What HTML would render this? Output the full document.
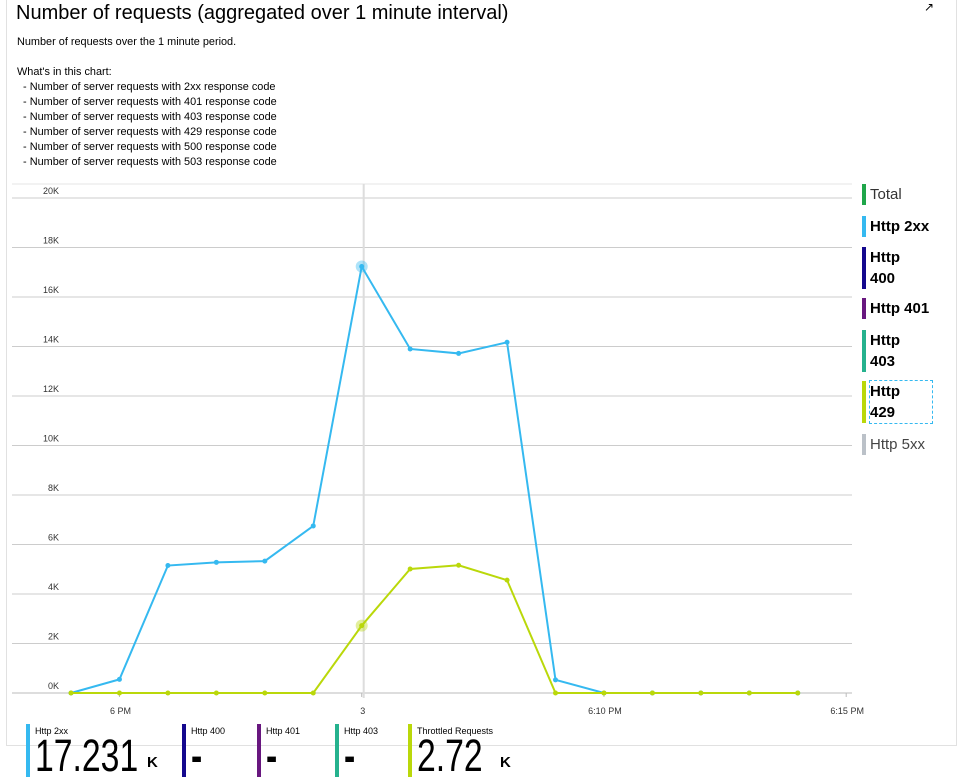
<!DOCTYPE html>
<html><head><meta charset="utf-8">
<style>
body{margin:0;background:#fff;font-family:"Liberation Sans",sans-serif;color:#000;width:962px;height:777px;overflow:hidden;position:relative}
.abs{position:absolute}
.desc{font-size:10.9px;line-height:15px}
.leg{position:absolute;left:862px;border-left:4px solid;padding-left:4px;font-size:15px;line-height:21px;font-weight:bold}
.tile{position:absolute;top:724px;border-left:4px solid;padding-left:5px;height:53px}
.tile .t{font-size:9px;margin-top:2px}
.tile .v{font-size:45px;line-height:40px;transform:scaleX(0.75);transform-origin:left top;white-space:nowrap}
.tile .k{position:absolute;top:30px;font-size:15px;font-weight:bold}
</style></head><body>
<div class="abs" style="left:6px;top:-2px;width:949px;height:747px;border:1px solid #e1e1e1;border-top:none"></div>
<div class="abs" style="left:16px;top:2px;font-size:20px">Number of requests (aggregated over 1 minute interval)</div>
<div class="abs" style="left:924px;top:0px;font-size:12px">↗</div>
<div class="abs desc" style="left:17px;top:35px">Number of requests over the 1 minute period.<br><br>What's in this chart:<br>&nbsp; - Number of server requests with 2xx response code<br>&nbsp; - Number of server requests with 401 response code<br>&nbsp; - Number of server requests with 403 response code<br>&nbsp; - Number of server requests with 429 response code<br>&nbsp; - Number of server requests with 500 response code<br>&nbsp; - Number of server requests with 503 response code</div>
<svg class="abs" style="left:0;top:0" width="962" height="777" id="chart"></svg>
<div class="leg" style="top:184px;border-color:#1fa64a;font-weight:normal;color:#333">Total</div>
<div class="leg" style="top:216px;border-color:#35b9f0">Http 2xx</div>
<div class="leg" style="top:247px;border-color:#14088e">Http<br>400</div>
<div class="leg" style="top:298px;border-color:#68177f">Http 401</div>
<div class="leg" style="top:330px;border-color:#25b28e">Http<br>403</div>
<div class="leg" style="top:381px;border-color:#bad80a"><span style="outline:1px dashed #35b9f0;display:inline-block;width:62px">Http<br>429</span></div>
<div class="leg" style="top:434px;border-color:#bbc1c8;font-weight:normal;color:#444">Http 5xx</div>
<div class="tile" style="left:26px;border-color:#35b9f0"><div class="t">Http 2xx</div><div class="v">17.231</div><div class="k" style="left:117px">K</div></div>
<div class="tile" style="left:182px;border-color:#14088e"><div class="t">Http 400</div><div class="v" style="font-weight:bold">-</div></div>
<div class="tile" style="left:257px;border-color:#68177f"><div class="t">Http 401</div><div class="v" style="font-weight:bold">-</div></div>
<div class="tile" style="left:335px;border-color:#25b28e"><div class="t">Http 403</div><div class="v" style="font-weight:bold">-</div></div>
<div class="tile" style="left:408px;border-color:#bad80a"><div class="t">Throttled Requests</div><div class="v">2.72</div><div class="k" style="left:88px">K</div></div>
<script>
const yTicks=[0,2000,4000,6000,8000,10000,12000,14000,16000,18000,20000];
const yTickLabels=["0K","2K","4K","6K","8K","10K","12K","14K","16K","18K","20K"];
const xTickIdx=[1,6,11,16];
const xTickLabels=["6 PM","3","6:10 PM","6:15 PM"];
const http2xx=[0,550,5150,5280,5330,6750,17231,13900,13720,14170,530,0,0,0,0,0];
const http429=[0,0,0,0,0,0,2720,5010,5160,4560,0,0,0,0,0,0];
const svg=document.getElementById('chart');const NS='http://www.w3.org/2000/svg';
const X0=12,X1=852,Y0=693,Y1=198;
const x=i=>71+i*48.45;
const y=v=>Y0-(v/20000)*(Y0-Y1);
function mk(t,a){const e=document.createElementNS(NS,t);for(const k in a)e.setAttribute(k,a[k]);svg.appendChild(e);return e;}
let b=mk('line',{x1:X0,x2:X1,y1:184,y2:184,stroke:'#e6e6e6'});


yTicks.forEach((v,i)=>{
 const l=mk('line',{x1:X0,x2:X1,y1:y(v),y2:y(v),stroke:i==0?'#bbb':'#ccc','stroke-width':1});
 
 
 const t=mk('text',{x:59,y:y(v)-4,'font-size':9,'text-anchor':'end',fill:'#333','font-family':'Liberation Sans'});
 t.textContent=yTickLabels[i];
 
 
});
xTickIdx.forEach((idx,i)=>{
 const tk=mk('line',{x1:x(idx),x2:x(idx),y1:Y0,y2:Y0+4,stroke:'#bbb'});
 
 
 const t=mk('text',{x:x(idx)+1,y:Y0+21,'font-size':9,'text-anchor':'middle',fill:'#333','font-family':'Liberation Sans'});
 t.textContent=xTickLabels[i];
 
 
});
const cur=mk('line',{x1:x(6)+2,x2:x(6)+2,y1:184,y2:Y0+5,stroke:'#ddd','stroke-width':2});


function series(vals,col,name){
 const p=mk('polyline',{points:vals.map((v,i)=>x(i)+','+y(v)).join(' '),fill:'none',stroke:col,'stroke-width':2});
 
 
 vals.forEach((v,i)=>{
  const c=mk('circle',{cx:x(i),cy:y(v),r:2.5,fill:col});
  
  
 });
 const h=mk('circle',{cx:x(6),cy:y(vals[6]),r:6,fill:col,opacity:0.4});
 
 
}
series(http2xx,'#35b9f0','http-2xx');
series(http429,'#bad80a','http-429');
</script>
</body></html>
